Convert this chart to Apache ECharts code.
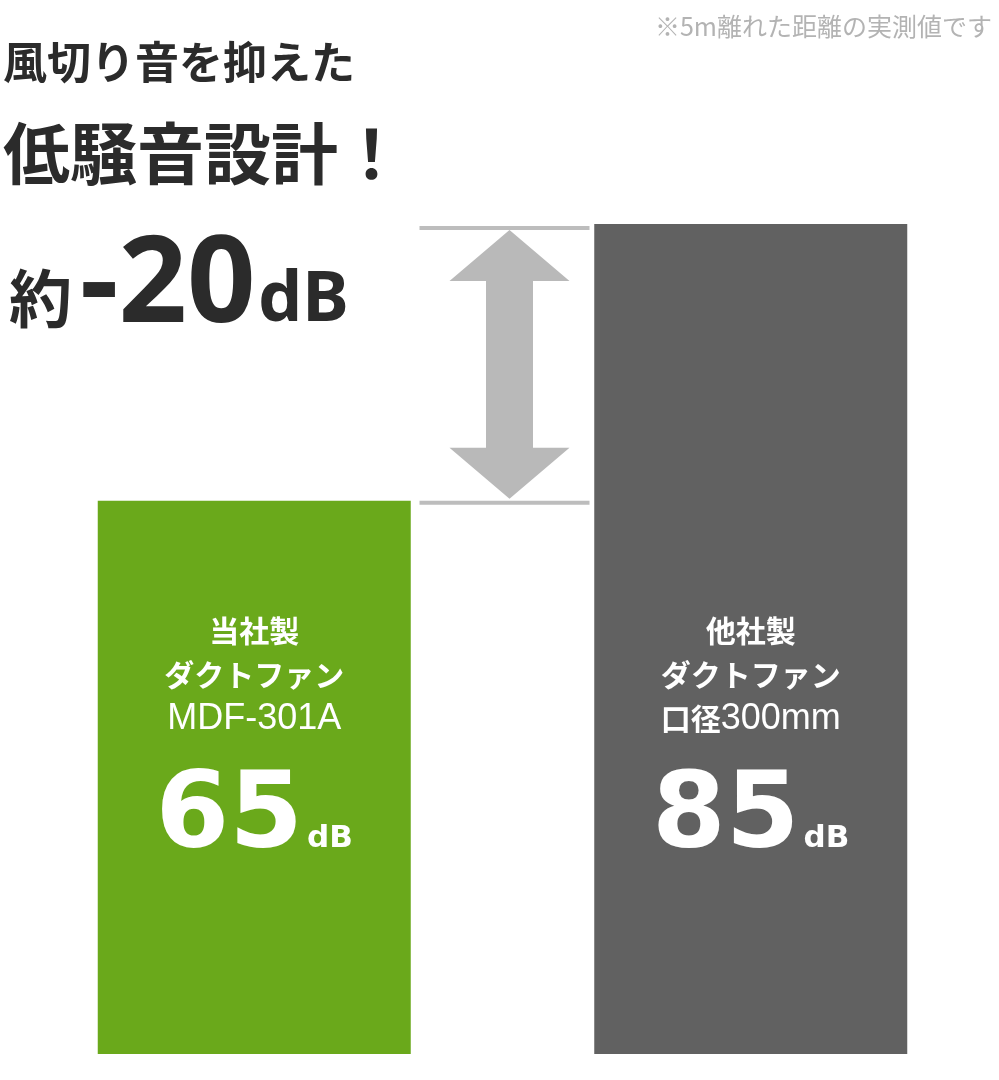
<!DOCTYPE html>
<html><head><meta charset="utf-8">
<script src="https://cdn.jsdelivr.net/npm/echarts@6/dist/echarts.min.js"></script>
<style>html,body{margin:0;padding:0;background:#fff}#c{width:999px;height:1080px}</style>
</head><body><div id="c"></div>
<script>
// ---- data ----
const makers = ['当社製', '他社製'];
const productTypes = ['ダクトファン', 'ダクトファン'];
const models = ['MDF-301A', '口径300mm'];
const values = [65, 85];
const unit = 'dB';
const barColors = ['#6aa91b', '#616161'];
const headline1 = '風切り音を抑えた';
const headline2 = '低騒音設計！';
const diffPrefix = '約';
const diffValue = '-20';
const diffUnit = 'dB';
const note = '※5m離れた距離の実測値です';

const CJK = '"Noto Sans CJK JP"';
const chart = echarts.init(document.getElementById('c'), null, {renderer: 'canvas'});

function labelText(p) {
  const i = p.dataIndex;
  const m = models[i].match(/^([^\x00-\x7f]*)(.*)$/);
  const l3 = (m[1] ? '{a|' + m[1] + '}' : '') + (m[2] ? '{m|' + m[2] + '}' : '');
  return ['{a|' + makers[i] + '}', '{a|' + productTypes[i] + '}', l3,
          '{n|' + values[i] + '}{u|' + unit + '}'].join('\n');
}

const option = {
  backgroundColor: '#ffffff',
  animation: false,
  grid: {left: 6, right: -3, top: 224, bottom: 26, containLabel: false},
  xAxis: {type: 'category', data: makers, show: false},
  yAxis: {type: 'value', min: 25, max: 85, show: false},
  series: [
    {
      type: 'bar',
      barWidth: 313,
      data: values.map((v, i) => ({value: v, itemStyle: {color: barColors[i]}})),
      label: {
        show: true,
        position: 'insideBottom',
        distance: 157,
        formatter: labelText,
        color: '#ffffff',
        rich: {
          a: {fontFamily: CJK, fontWeight: 'bold', fontSize: 30, lineHeight: 44, color: '#ffffff'},
          m: {fontFamily: '"Liberation Sans"', fontSize: 36, lineHeight: 44, color: '#ffffff'},
          n: {fontFamily: '"DejaVu Sans"', fontWeight: 'bold', fontSize: 106, lineHeight: 156, color: '#ffffff'},
          u: {fontFamily: '"DejaVu Sans"', fontWeight: 'bold', fontSize: 31, lineHeight: 31, color: '#ffffff', padding: [40, 0, 0, 4]}
        }
      }
    },
    {
      type: 'custom',
      silent: true,
      data: [[0, values[0], values[1]]],
      renderItem: function (params, api) {
        const lo = api.value(1), hi = api.value(2);
        const a0 = api.coord([0, hi]), a1 = api.coord([1, hi]);
        const b0 = api.coord([0, lo]);
        const midX = (a0[0] + a1[0]) / 2;
        const yTop = a0[1] + 4, yBot = b0[1] + 2;
        const ax = midX + 7;
        const hw = 60, sw = 23.5, hh = 51;
        const tTip = yTop + 2, bTip = yBot - 4;
        const lineStyle = {stroke: '#bdbdbd', lineWidth: 4};
        return {
          type: 'group',
          children: [
            {type: 'line', shape: {x1: midX - 83, y1: yTop, x2: midX + 87, y2: yTop}, style: lineStyle},
            {type: 'line', shape: {x1: midX - 83, y1: yBot, x2: midX + 87, y2: yBot}, style: lineStyle},
            {type: 'polygon', shape: {points: [
              [ax, tTip], [ax + hw, tTip + hh], [ax + sw, tTip + hh], [ax + sw, bTip - hh],
              [ax + hw, bTip - hh], [ax, bTip], [ax - hw, bTip - hh], [ax - sw, bTip - hh],
              [ax - sw, tTip + hh], [ax - hw, tTip + hh]
            ]}, style: {fill: '#b9b9b9'}}
          ]
        };
      }
    }
  ],
  graphic: [
    {type: 'text', x: 3, y: 62, style: {text: headline1, font: 'bold 44px ' + CJK, fill: '#2b2b2b', textVerticalAlign: 'middle', verticalAlign: 'middle'}},
    {type: 'text', x: 3, y: 154, style: {text: headline2, font: 'bold 67px ' + CJK, fill: '#2b2b2b', textVerticalAlign: 'middle', verticalAlign: 'middle'}},
    {type: 'text', x: 9, y: 298, style: {text: diffPrefix, font: 'bold 63px ' + CJK, fill: '#2b2b2b', textVerticalAlign: 'middle', verticalAlign: 'middle'}},
    {type: 'text', x: 80, y: 287.5, style: {text: diffValue, font: 'bold 120px "Noto Sans"', fill: '#2b2b2b', textVerticalAlign: 'middle', verticalAlign: 'middle'}},
    {type: 'text', x: 258, y: 301.5, style: {text: diffUnit, font: 'bold 70px "Noto Sans"', fill: '#2b2b2b', textVerticalAlign: 'middle', verticalAlign: 'middle'}},
    {type: 'text', x: 992, y: 26, style: {text: note, font: '25px ' + CJK, fill: '#b3b3b3', textAlign: 'right', align: 'right', textVerticalAlign: 'middle', verticalAlign: 'middle'}}
  ]
};
chart.setOption(option);
</script>
</body></html>
